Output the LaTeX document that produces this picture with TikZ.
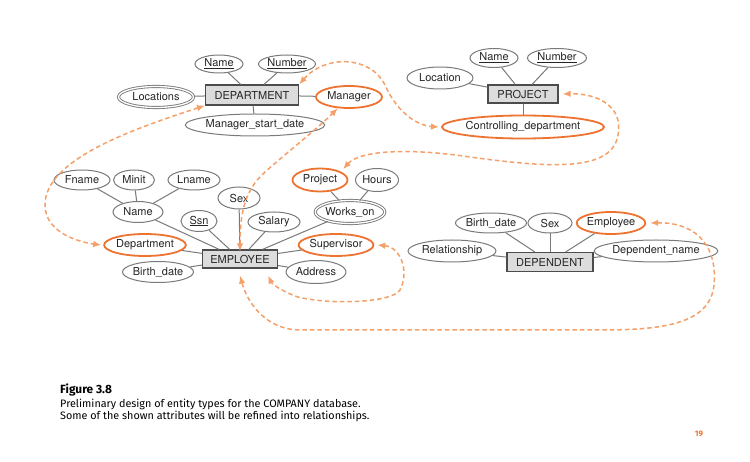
\documentclass[tikz,border=0pt]{standalone}
\usepackage{fontspec}
\setmainfont{TeX Gyre Heros}
\newfontfamily\capfont{Fira Sans}
\usetikzlibrary{shapes.geometric,arrows.meta}
\definecolor{orng}{HTML}{EE7230}
\definecolor{dorng}{HTML}{F4A068}
\definecolor{lgray}{HTML}{7A7A7A}
\definecolor{boxfill}{HTML}{DCDCDC}
\begin{document}
\begin{tikzpicture}[x=1pt,y=-1pt,
  lbl/.style={font=\fontsize{11}{12}\selectfont,text=black!85},
  attr/.style={ellipse,draw=lgray,line width=1pt,inner sep=0pt,lbl},
  refattr/.style={attr,draw=orng,line width=1.8pt},
  multi/.style={attr,double=white,double distance=1.3pt,line width=0.9pt},
  ent/.style={rectangle,draw=black!70,fill=boxfill,line width=1.2pt,inner sep=0pt,lbl},
  lnk/.style={draw=lgray,line width=1pt},
  refarr/.style={draw=dorng,line width=1.5pt,dash pattern=on 4.5pt off 3pt,
    {Latex[length=8pt,width=6.5pt]}-{Latex[length=8pt,width=6.5pt]}},
  capt/.style={anchor=base west,inner sep=0pt,font=\capfont\fontsize{10.8}{12}\selectfont},
]
\fill[white] (0,0) rectangle (750,462);
\useasboundingbox (0,0) rectangle (750,462);

% DEPARTMENT
\node[ent,minimum width=93pt,minimum height=20pt] (dept) at (252,95) {DEPARTMENT};
\node[attr,minimum width=48pt,minimum height=18pt] (dname) at (219,64) {\underline{Name}};
\node[attr,minimum width=57pt,minimum height=18pt] (dnum) at (287,64) {\underline{Number}};
\node[multi,minimum width=75pt,minimum height=21pt] (dloc) at (156,97) {Locations};
\node[refattr,minimum width=66pt,minimum height=22pt] (dmgr) at (349,97) {Manager};
\node[attr,minimum width=115pt,minimum height=22pt] (dmsd) at (255,125) {Manager\_start\_date};
\foreach \a in {dname,dnum,dloc,dmgr,dmsd} \draw[lnk] (\a) -- (dept);

% PROJECT
\node[ent,minimum width=70pt,minimum height=18pt] (proj) at (523,94) {PROJECT};
\node[attr,minimum width=48pt,minimum height=19pt] (pname) at (494,58) {\underline{Name}};
\node[attr,minimum width=59pt,minimum height=19pt] (pnum) at (557,58) {\underline{Number}};
\node[attr,minimum width=66pt,minimum height=22pt] (ploc) at (440,78) {Location};
\node[refattr,minimum width=147pt,minimum height=23pt] (pctrl) at (523,127) {Controlling\_department};
\foreach \a in {pname,pnum,ploc,pctrl} \draw[lnk] (\a) -- (proj);

% EMPLOYEE
\node[ent,minimum width=75pt,minimum height=18pt] (emp) at (240,259) {EMPLOYEE};
\node[attr,minimum width=56pt,minimum height=20pt] (efn) at (82,180) {Fname};
\node[attr,minimum width=41pt,minimum height=20pt] (emi) at (134,180) {Minit};
\node[attr,minimum width=52pt,minimum height=20pt] (eln) at (194,180) {Lname};
\node[attr,minimum width=50pt,minimum height=21pt] (ename) at (138,212) {Name};
\node[attr,minimum width=36pt,minimum height=21pt] (essn) at (199,221) {\underline{Ssn}};
\node[attr,minimum width=42pt,minimum height=22pt] (esex) at (239,198) {Sex};
\node[attr,minimum width=52pt,minimum height=20pt] (esal) at (274,222) {Salary};
\node[refattr,minimum width=76pt,minimum height=22pt] (edept) at (145,245) {Department};
\node[attr,minimum width=57pt,minimum height=21pt] (ebd) at (158,272) {Birth\_date};
\node[refattr,minimum width=55pt,minimum height=23pt] (eproj) at (320,180) {Project};
\node[attr,minimum width=43pt,minimum height=23pt] (ehrs) at (377,180) {Hours};
\node[multi,minimum width=68pt,minimum height=23pt] (ewo) at (350,212) {Works\_on};
\node[refattr,minimum width=74pt,minimum height=22pt] (esup) at (336,245) {Supervisor};
\node[attr,minimum width=60pt,minimum height=23pt] (eaddr) at (316,272) {Address};
\foreach \a in {efn,emi,eln} \draw[lnk] (\a) -- (ename);
\foreach \a in {eproj,ehrs} \draw[lnk] (\a) -- (ewo);
\foreach \a in {ename,essn,esex,esal,edept,ebd,ewo,esup,eaddr} \draw[lnk] (\a) -- (emp);

% DEPENDENT
\node[ent,minimum width=86pt,minimum height=19pt] (dep) at (550,262) {DEPENDENT};
\node[attr,minimum width=68pt,minimum height=20pt] (dbd) at (491,223) {Birth\_date};
\node[attr,minimum width=44pt,minimum height=20pt] (dsex) at (550,223) {Sex};
\node[refattr,minimum width=67pt,minimum height=22pt] (demp) at (611,223) {Employee};
\node[attr,minimum width=88pt,minimum height=22pt] (drel) at (452,251) {Relationship};
\node[attr,minimum width=102pt,minimum height=22pt] (ddn) at (656,251) {Dependent\_name};
\foreach \a in {dbd,dsex,demp,drel,ddn} \draw[lnk] (\a) -- (dep);

% reference arrows
\draw[refarr] (dept.north east) .. controls (325,55) and (370,55) .. (385,85)
  .. controls (398,115) and (420,126) .. ([xshift=-2pt]pctrl.west);
\draw[refarr] ([yshift=-2pt]emp.north) .. controls (240,212) and (245,190) .. (265,172)
  .. controls (290,150) and (318,128) .. (dmgr.225);
\draw[refarr] (dept.south west) .. controls (130,130) and (45,160) .. (45,205)
  .. controls (45,235) and (85,243) .. ([xshift=-2pt]edept.west);
\draw[refarr] ([shift={(3pt,2pt)}]eproj.north east) .. controls (360,150) and (410,148) .. (470,157)
  .. controls (550,168) and (612,172) .. (618,135) .. controls (624,105) and (595,93) .. ([xshift=4pt]proj.east);
\draw[refarr] ([xshift=3pt]esup.east) .. controls (400,247) and (410,270) .. (400,290)
  .. controls (392,303) and (330,305) .. (298,297)
  .. controls (283,292) and (272,284) .. ([shift={(-10pt,-7pt)}]emp.south east);
\draw[refarr] ([xshift=4pt]demp.east) .. controls (690,222) and (718,240) .. (714,285)
  .. controls (710,325) and (660,330) .. (600,330) -- (300,330)
  .. controls (268,330) and (248,305) .. ([yshift=-7pt]emp.south);

% caption
\node[capt,font=\capfont\bfseries\fontsize{11.9}{13}\selectfont] (fig) at (60,394) {Figure 3.8};
\node[capt] (cap1) at (60,407) {Preliminary design of entity types for the COMPANY database.};
\node[capt] (cap2) at (60,420) {Some of the shown attributes will be refined into relationships.};
\node[capt,anchor=base,text=orng,font=\capfont\bfseries\fontsize{8}{9}\selectfont] (pg) at (699,436) {19};
\end{tikzpicture}
\end{document}
